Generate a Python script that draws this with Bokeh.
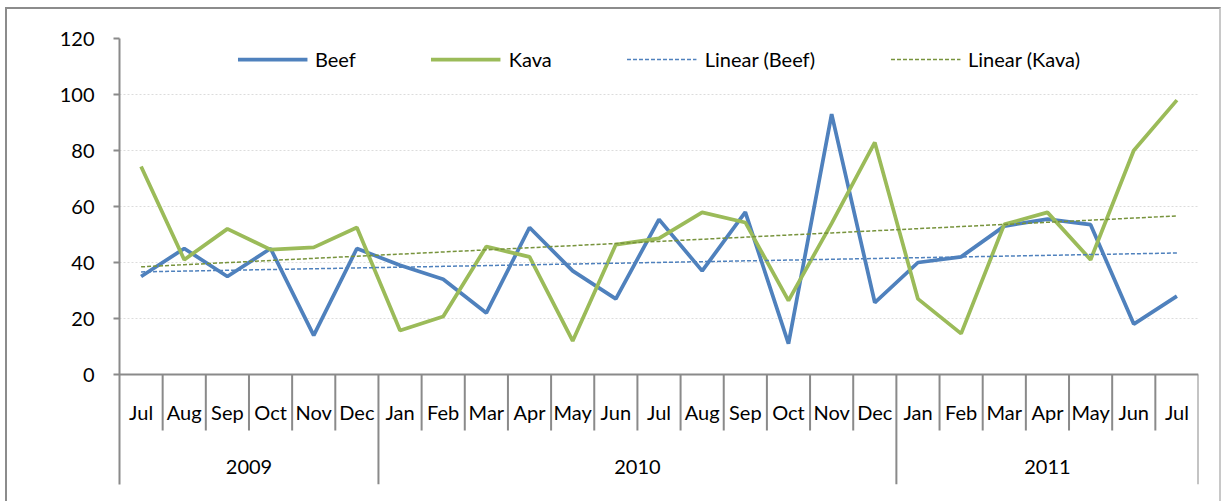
import numpy as np
from bokeh.plotting import figure
from bokeh.models import FactorRange, Range1d, FixedTicker, ColumnDataSource
from bokeh.core.properties import value
from bokeh.embed import file_html
from bokeh.resources import INLINE

# ---- data ----
years = ["2009"] * 6 + ["2010"] * 12 + ["2011"] * 7
months = ["Jul", "Aug", "Sep", "Oct", "Nov", "Dec",
          "Jan", "Feb", "Mar", "Apr", "May", "Jun", "Jul", "Aug", "Sep", "Oct", "Nov", "Dec",
          "Jan", "Feb", "Mar", "Apr", "May", "Jun", "Jul"]
beef = [35, 45, 35, 45, 14, 45,
        39, 34, 22, 52.5, 37, 27, 55.4, 37, 58, 11, 93, 25.7,
        40, 42, 53, 55.5, 53.5, 18, 28]
kava = [74.3, 41, 52, 44.6, 45.4, 52.5,
        15.7, 20.7, 45.7, 42, 12, 46.4, 48.6, 57.9, 54.3, 26.4, 54, 82.9,
        27, 14.6, 53.6, 57.9, 41, 80, 98]
y_ticks = [0, 20, 40, 60, 80, 100, 120]
year_labels = ["2009", "2010", "2011"]

# ---- derived ----
factors = list(zip(years, months))
n = len(factors)
idx = np.arange(n)
trend_beef = np.polyval(np.polyfit(idx, beef, 1), idx)
trend_kava = np.polyval(np.polyfit(idx, kava, 1), idx)

# category boundaries (synthetic coordinates on the factor range)
year_bounds = [0]
for i in range(1, n):
    if years[i] != years[i - 1]:
        year_bounds.append(i)
year_bounds.append(n)
month_bounds = [i for i in range(1, n) if i not in year_bounds]

FONT = "Lato"
FS = "20px"
AXIS_COLOR = "#8a8a8a"
PX_PER_UNIT = 2.8
Y_BOTTOM = -110 / PX_PER_UNIT
MONTH_Y = -37 / PX_PER_UNIT
MONTH_SEP_Y = -56 / PX_PER_UNIT
YEAR_Y = -92 / PX_PER_UNIT

src = ColumnDataSource(dict(x=factors, beef=beef, kava=kava,
                            tb=trend_beef, tk=trend_kava))

p = figure(width=1216, height=494,
           x_range=FactorRange(factors=factors, factor_padding=0, group_padding=0,
                               subgroup_padding=0, range_padding=0),
           y_range=Range1d(Y_BOTTOM, max(y_ticks)),
           output_backend="svg", toolbar_location=None,
           min_border_left=112, min_border_right=25, min_border_top=29, min_border_bottom=19)
p.styles = {"border-top": "2px solid #8c8c8c", "border-left": "2px solid #8c8c8c",
            "border-right": "2px solid #c8c8c8",
            "margin-left": "5px", "margin-top": "7px"}
p.outline_line_color = None
p.background_fill_color = "white"
p.border_fill_color = "white"
p.xaxis.visible = False
p.xgrid.visible = False

ax = p.yaxis[0]
ax.ticker = FixedTicker(ticks=y_ticks)
ax.axis_line_color = AXIS_COLOR
ax.axis_line_width = 2
ax.major_tick_line_color = AXIS_COLOR
ax.major_tick_line_width = 2
ax.major_tick_out = 6
ax.major_tick_in = 0
ax.minor_tick_line_color = None
ax.major_label_text_font = FONT
ax.major_label_text_font_size = FS
ax.major_label_text_color = "black"
ax.major_label_standoff = 19

p.ygrid.ticker = FixedTicker(ticks=y_ticks[1:])
p.ygrid.grid_line_color = "#dcdcdc"
p.ygrid.grid_line_dash = "2 2"
p.ygrid.grid_line_width = 1

# category axis drawn inside the frame
p.segment(x0=[0], y0=[0], x1=[n], y1=[0], line_color=AXIS_COLOR, line_width=2)
p.segment(x0=month_bounds, y0=[0] * len(month_bounds), x1=month_bounds,
          y1=[MONTH_SEP_Y] * len(month_bounds), line_color=AXIS_COLOR, line_width=2)
yb = year_bounds[1:]
p.segment(x0=yb, y0=[0] * len(yb), x1=yb, y1=[Y_BOTTOM] * len(yb),
          line_color=AXIS_COLOR, line_width=2)

p.text(x=factors, y=[MONTH_Y] * n, text=months, text_align="center",
       text_baseline="middle", text_font=value(FONT), text_font_size=FS, text_color="black")
p.text(x=year_labels, y=[YEAR_Y] * len(year_labels), text=year_labels, text_align="center",
       text_baseline="middle", text_font=value(FONT), text_font_size=FS, text_color="black")

# series
p.line("x", "beef", source=src, line_color="#4f81bd", line_width=3.75, legend_label="Beef")
p.line("x", "kava", source=src, line_color="#9bbb59", line_width=3.75, legend_label="Kava")
p.line("x", "tb", source=src, line_color="#4f81bd", line_width=1.5, line_dash="4 2",
       legend_label="Linear (Beef)")
p.line("x", "tk", source=src, line_color="#77933c", line_width=1.5, line_dash="4 2",
       legend_label="Linear (Kava)")

lg = p.legend[0]
lg.location = "top_center"
lg.orientation = "horizontal"
lg.glyph_width = 70
lg.glyph_height = 20
lg.label_height = 20
lg.label_standoff = 8
lg.spacing = 75
lg.padding = 10
lg.margin = 9
lg.border_line_color = None
lg.background_fill_alpha = 0
lg.label_text_font = FONT
lg.label_text_font_size = FS
lg.label_text_color = "black"

open("out.html", "w").write(file_html(p, INLINE))
